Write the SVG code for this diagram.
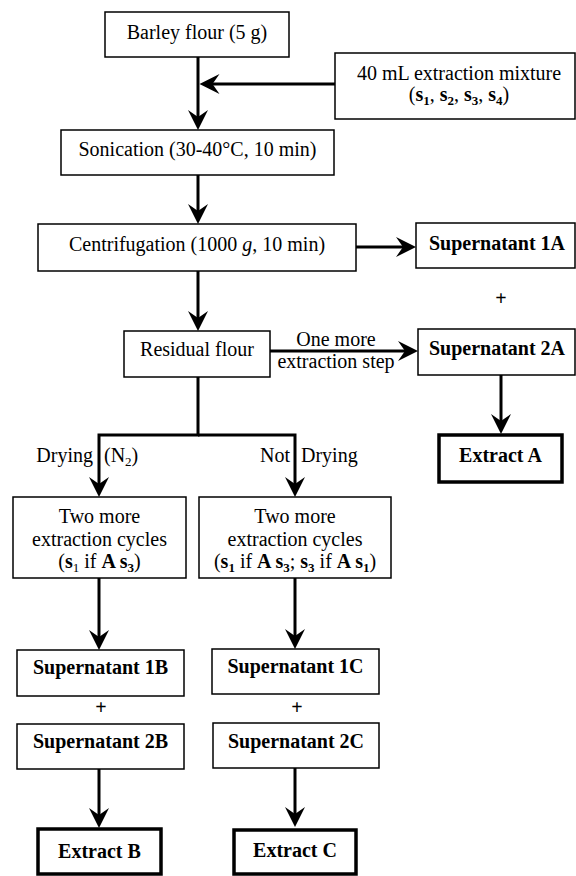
<svg xmlns="http://www.w3.org/2000/svg" width="576" height="876" viewBox="0 0 576 876">
<style>
text{font-family:"Liberation Serif","Times New Roman",serif;font-size:20px;fill:#000}
.c{text-anchor:middle}
.b{font-weight:bold}
.box{fill:#fff;stroke:#000;stroke-width:1.5}
.ext{fill:#fff;stroke:#000;stroke-width:3.5}
.con{fill:none;stroke:#000;stroke-width:3;marker-end:url(#ah)}
.sub{font-size:13px}
</style>
<defs>
<marker id="ah" markerUnits="userSpaceOnUse" viewBox="-21 -11 22 22" markerWidth="22" markerHeight="22" refX="-10" refY="0" orient="auto">
<path d="M0,0 L-20,-10 L-13,0 L-20,10 Z" fill="#000"/>
</marker>
</defs>
<rect width="576" height="876" fill="#fff"/>
<g id="connectors">
<path class="con" d="M198,57 V120"/>
<path class="con" d="M335,84 H209.5"/>
<path class="con" d="M198,175 V214"/>
<path class="con" d="M356,247 H406"/>
<path class="con" d="M198,271 V321"/>
<path class="con" d="M270,351 H408"/>
<path class="con" d="M501,375 V424"/>
<path class="con" d="M198,377 V435 H99 V487"/>
<path class="con" d="M198,435 H295 V487"/>
<path class="con" d="M99,578 V640"/>
<path class="con" d="M295,578 V639"/>
<path class="con" d="M99,769 V818"/>
<path class="con" d="M295,768 V817"/>
<text class="c" x="336" y="346">One more</text>
<text class="c" x="336" y="368">extraction step</text>
<text x="93" y="462" text-anchor="end">Drying</text>
<text x="104" y="462">(N<tspan class="sub" dy="4">2</tspan><tspan dy="-4">)</tspan></text>
<text x="290" y="462" text-anchor="end">Not</text>
<text x="301" y="462">Drying</text>
<text class="c b" x="501" y="305">+</text>
<text class="c b" x="101" y="714">+</text>
<text class="c b" x="297" y="714">+</text>
</g>
<g id="barley">
<rect class="box" x="105" y="12" width="184" height="45"/>
<text class="c" x="197" y="38.5">Barley flour (5 g)</text>
</g>
<g id="mixture">
<rect class="box" x="335" y="53" width="240" height="66"/>
<text class="c" x="459" y="80">40 mL extraction mixture</text>
<text class="c" x="459" y="101">(<tspan class="b">s</tspan><tspan class="sub b" dy="4">1</tspan><tspan dy="-4">, </tspan><tspan class="b">s</tspan><tspan class="sub b" dy="4">2</tspan><tspan dy="-4">, </tspan><tspan class="b">s</tspan><tspan class="sub b" dy="4">3</tspan><tspan dy="-4">, </tspan><tspan class="b">s</tspan><tspan class="sub b" dy="4">4</tspan><tspan dy="-4">)</tspan></text>
</g>
<g id="sonication">
<rect class="box" x="61" y="130" width="273" height="45"/>
<text class="c" x="197.5" y="155.5">Sonication (30-40°C, 10 min)</text>
</g>
<g id="centrifugation">
<rect class="box" x="38" y="224" width="318" height="47"/>
<text class="c" x="197" y="251">Centrifugation (1000 <tspan font-style="italic">g</tspan>, 10 min)</text>
</g>
<g id="sup1A">
<rect class="box" x="416" y="223" width="159" height="45"/>
<text class="c b" x="497" y="249.5">Supernatant 1A</text>
</g>
<g id="residual">
<rect class="box" x="124" y="331" width="146" height="46"/>
<text class="c" x="197" y="356">Residual flour</text>
</g>
<g id="sup2A">
<rect class="box" x="418" y="329" width="157" height="46"/>
<text class="c b" x="497" y="354.5">Supernatant 2A</text>
</g>
<g id="extractA">
<rect class="ext" x="439" y="435" width="123" height="47"/>
<text class="c b" x="500.5" y="462">Extract A</text>
</g>
<g id="cyclesB">
<rect class="box" x="13" y="497" width="173" height="81"/>
<text class="c" x="99.5" y="523">Two more</text>
<text class="c" x="99.5" y="546">extraction cycles</text>
<text class="c" x="99.5" y="568">(<tspan class="b">s</tspan><tspan class="sub" dy="4">1</tspan><tspan dy="-4"> if </tspan><tspan class="b">A s</tspan><tspan class="sub b" dy="4">3</tspan><tspan dy="-4">)</tspan></text>
</g>
<g id="cyclesC">
<rect class="box" x="199" y="497" width="192" height="81"/>
<text class="c" x="295" y="523">Two more</text>
<text class="c" x="295" y="546">extraction cycles</text>
<text class="c" x="295" y="568">(<tspan class="b">s</tspan><tspan class="sub b" dy="4">1</tspan><tspan dy="-4"> if </tspan><tspan class="b">A s</tspan><tspan class="sub b" dy="4">3</tspan><tspan dy="-4">; </tspan><tspan class="b">s</tspan><tspan class="sub b" dy="4">3</tspan><tspan dy="-4"> if </tspan><tspan class="b">A s</tspan><tspan class="sub b" dy="4">1</tspan><tspan dy="-4">)</tspan></text>
</g>
<g id="sup1B">
<rect class="box" x="17" y="650" width="167" height="46"/>
<text class="c b" x="100.5" y="674">Supernatant 1B</text>
</g>
<g id="sup2B">
<rect class="box" x="17" y="724" width="167" height="45"/>
<text class="c b" x="100.5" y="748">Supernatant 2B</text>
</g>
<g id="extractB">
<rect class="ext" x="38" y="829" width="123" height="45"/>
<text class="c b" x="99.5" y="858">Extract B</text>
</g>
<g id="sup1C">
<rect class="box" x="212" y="649" width="167" height="45"/>
<text class="c b" x="295.5" y="673">Supernatant 1C</text>
</g>
<g id="sup2C">
<rect class="box" x="213" y="723" width="166" height="45"/>
<text class="c b" x="296" y="748">Supernatant 2C</text>
</g>
<g id="extractC">
<rect class="ext" x="234" y="830" width="122" height="44"/>
<text class="c b" x="295" y="857">Extract C</text>
</g>
</svg>
